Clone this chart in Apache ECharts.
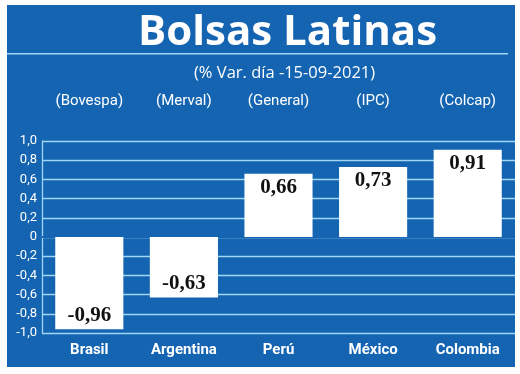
<!DOCTYPE html>
<html><head><meta charset="utf-8">
<script src="https://cdn.jsdelivr.net/npm/echarts@6/dist/echarts.min.js"></script>
<style>html,body{margin:0;padding:0;background:#fff}#c{width:520px;height:374px}</style>
</head><body><div id="c"></div>
<script>
var countries = ['Brasil', 'Argentina', 'Perú', 'México', 'Colombia'];
var indices = ['(Bovespa)', '(Merval)', '(General)', '(IPC)', '(Colcap)'];
var values = [-0.96, -0.63, 0.66, 0.73, 0.91];
var titleText = 'Bolsas Latinas';
var subtitleText = '(% Var. día -15-09-2021)';

var BLUE = '#1464b2';
var GRID = '#a0d6f4';
var LABEL_FONT = 'Roboto, sans-serif';
var chart = echarts.init(document.getElementById('c'), null, {renderer: 'canvas'});
chart.setOption({
  animation: false,
  backgroundColor: '#fff',
  graphic: [
    {type: 'rect', z: -10, shape: {x: 7, y: 5, width: 508, height: 362}, style: {fill: BLUE}},
    {type: 'rect', z: -9, shape: {x: 7, y: 53, width: 501, height: 1.5}, style: {fill: GRID}}
  ],
  title: [
    {text: titleText, left: 133, top: 7,
     textStyle: {color: '#fff', fontFamily: 'Open Sans', fontWeight: 'bold', fontSize: 42}},
    {text: subtitleText, left: 189, top: 60,
     textStyle: {color: '#fff', fontFamily: 'Open Sans', fontWeight: 'normal', fontSize: 16.5}}
  ],
  grid: {left: 42, right: 5, top: 141, bottom: 41, containLabel: false},
  xAxis: [
    {type: 'category', data: countries, position: 'bottom',
     axisLine: {show: false}, axisTick: {show: false},
     axisLabel: {interval: 0, color: '#fff', fontFamily: LABEL_FONT, fontWeight: 'bold', fontSize: 15, margin: 10}},
    {type: 'category', data: indices, position: 'top',
     axisLine: {show: false}, axisTick: {show: false},
     axisLabel: {interval: 0, color: '#fff', fontFamily: LABEL_FONT, fontSize: 15, margin: 32}}
  ],
  yAxis: {
    type: 'value', min: -1, max: 1, interval: 0.2,
    axisLine: {show: true, lineStyle: {color: GRID, width: 1.3}},
    axisTick: {show: false},
    splitLine: {lineStyle: {color: GRID, width: 1.3}},
    axisLabel: {color: '#fff', fontFamily: LABEL_FONT, fontSize: 13, margin: 5,
      formatter: function (v) { return Math.abs(v) < 1e-9 ? '0' : v.toFixed(1).replace('.', ','); }}
  },
  series: [{
    type: 'bar', xAxisIndex: 0, barWidth: '72%',
    itemStyle: {color: '#fff'},
    data: values.map(function (v) {
      return {value: v, label: {position: v < 0 ? 'insideBottom' : 'insideTop'}};
    }),
    label: {show: true, distance: 3, color: '#111', fontFamily: 'Liberation Serif', fontWeight: 'bold', fontSize: 21,
      formatter: function (p) { return p.value.toFixed(2).replace('.', ','); }},
    markLine: {silent: true, symbol: 'none', label: {show: false}, z: 1,
      lineStyle: {color: BLUE, width: 2, type: 'solid'}, data: [{yAxis: 0}]}
  }]
});
</script></body></html>
